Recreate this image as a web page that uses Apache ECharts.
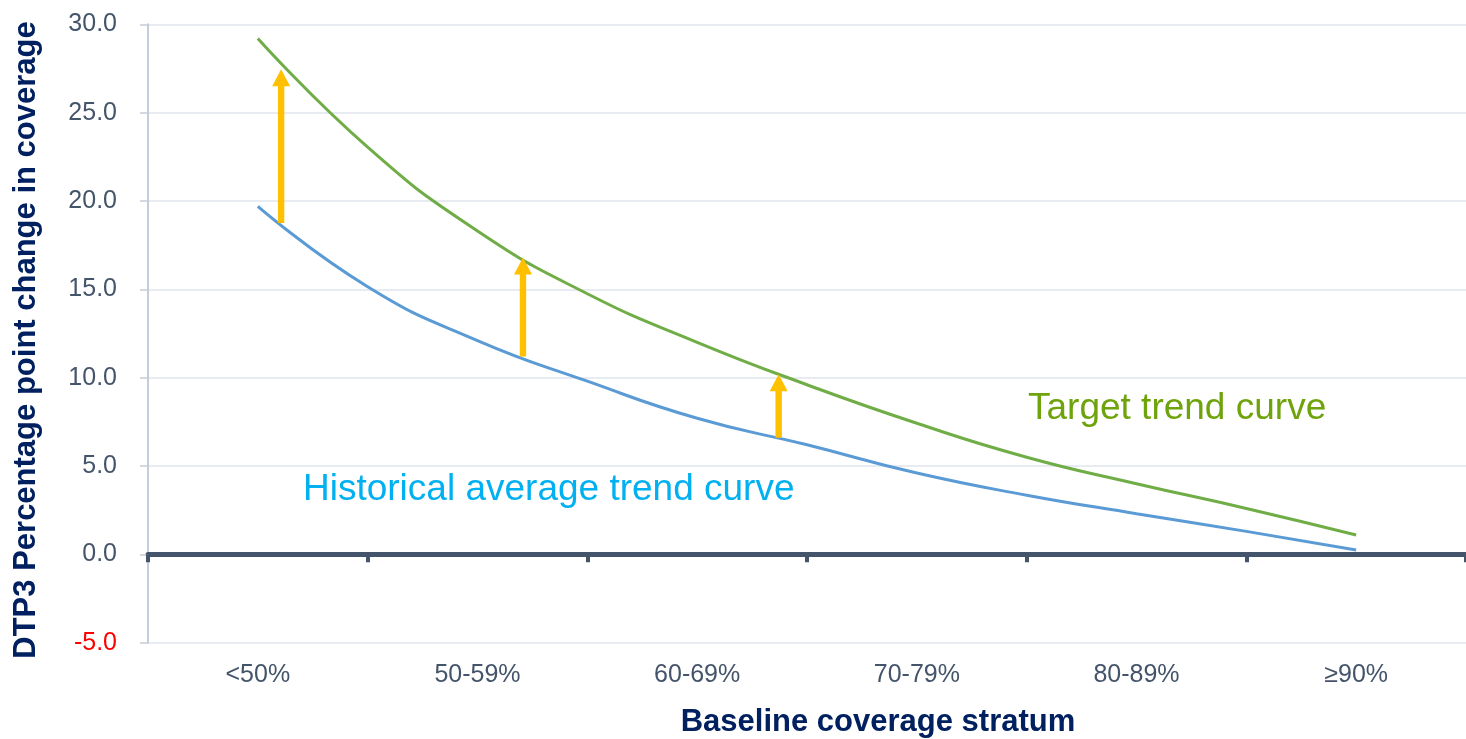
<!DOCTYPE html>
<html>
<head>
<meta charset="utf-8">
<script src="https://cdn.jsdelivr.net/npm/echarts@6/dist/echarts.min.js"></script>
<style>
html,body{margin:0;padding:0;background:#fff;}
#c{width:1466px;height:739px;}
</style>
</head>
<body>
<div id="c"></div>
<script>
// ---- data ----
const categories = ['<50%', '50-59%', '60-69%', '70-79%', '80-89%', '≥90%'];
// positions along x in category units (0 = left edge of first category)
const curveX = [0.5, 1, 1.5, 2, 2.5, 3, 3.5, 4, 4.5, 5, 5.5];
const targetValues = [29.2, 23.05, 18.3, 14.75, 12.0, 9.6, 7.42, 5.5, 4.0, 2.6, 1.1];
const historicalValues = [19.7, 15.15, 12.1, 9.8, 7.7, 6.2, 4.6, 3.35, 2.3, 1.3, 0.25];
const arrowX = [0.606, 1.707, 2.871];
const arrowFrom = [18.75, 11.2, 6.6];
const arrowTo = [27.45, 16.8, 10.2];
const yMin = -5, yMax = 30, yStep = 5;

const FONT = '"Liberation Sans", Arial, Helvetica, sans-serif';
const chart = echarts.init(document.getElementById('c'), null, {renderer: 'canvas'});

const option = {
  backgroundColor: '#ffffff',
  animation: false,
  textStyle: {fontFamily: FONT},
  grid: {left: 148, top: 24.3, width: 1323, height: 618.4, containLabel: false},
  xAxis: [
    {
      type: 'category', data: categories, position: 'bottom',
      axisLine: {show: false, onZero: false},
      axisTick: {show: false},
      axisLabel: {fontSize: 25, color: '#44546a', margin: 20, fontFamily: FONT},
      splitLine: {show: false}
    },
    {
      type: 'category', data: categories, position: 'bottom',
      axisLine: {show: true, onZero: true, lineStyle: {color: '#44546a', width: 5}},
      axisTick: {show: true, length: 8, lineStyle: {color: '#44546a', width: 4}},
      axisLabel: {show: false},
      splitLine: {show: false}
    },
    {type: 'value', min: 0, max: 6, show: false}
  ],
  yAxis: {
    type: 'value', min: yMin, max: yMax, interval: yStep,
    axisLine: {show: true, onZero: false, lineStyle: {color: '#c5cdd8', width: 2}},
    axisTick: {show: true, length: 8, lineStyle: {color: '#c5cdd8', width: 1.5}},
    axisLabel: {
      fontSize: 25, margin: 31, fontFamily: FONT,
      formatter: v => v.toFixed(1),
      color: v => (Number(v) < 0 ? '#ff0000' : '#44546a')
    },
    splitLine: {show: true, lineStyle: {color: '#e1e5ec', width: 1.5}}
  },
  series: [
    {
      name: 'Target trend curve', type: 'line', xAxisIndex: 2, yAxisIndex: 0,
      data: curveX.map((x, i) => [x, targetValues[i]]),
      smooth: 0.5, symbol: 'none',
      lineStyle: {color: '#70ad47', width: 3}, z: 3
    },
    {
      name: 'Historical average trend curve', type: 'line', xAxisIndex: 2, yAxisIndex: 0,
      data: curveX.map((x, i) => [x, historicalValues[i]]),
      smooth: 0.5, symbol: 'none',
      lineStyle: {color: '#5b9bd5', width: 3}, z: 3
    },
    {
      name: 'arrows', type: 'custom', xAxisIndex: 2, yAxisIndex: 0, z: 5,
      data: arrowX.map((x, i) => [x, arrowFrom[i], arrowTo[i]]),
      encode: {x: 0, y: [1, 2]},
      renderItem: function (params, api) {
        const p0 = api.coord([api.value(0), api.value(1)]);
        const p1 = api.coord([api.value(0), api.value(2)]);
        const x = p0[0], hw = 3.2, headW = 9, headH = 17;
        const pts = [
          [x - hw, p0[1]], [x - hw, p1[1] + headH], [x - headW, p1[1] + headH],
          [x, p1[1]], [x + headW, p1[1] + headH], [x + hw, p1[1] + headH], [x + hw, p0[1]]
        ];
        return {type: 'polygon', shape: {points: pts}, style: {fill: '#ffc000'}};
      }
    }
  ],
  graphic: [
    {
      type: 'text', x: 26, y: 340, rotation: Math.PI / 2,
      style: {text: 'DTP3 Percentage point change in coverage', fontSize: 31, fontWeight: 'bold',
        fontFamily: FONT, fill: '#002060', align: 'center', verticalAlign: 'middle'}
    },
    {
      type: 'text', x: 878, y: 722,
      style: {text: 'Baseline coverage stratum', fontSize: 31, fontWeight: 'bold',
        fontFamily: FONT, fill: '#002060', align: 'center', verticalAlign: 'middle'}
    },
    {
      type: 'text', x: 303, y: 490,
      style: {text: 'Historical average trend curve', fontSize: 37,
        fontFamily: FONT, fill: '#00b0f0', align: 'left', verticalAlign: 'middle'}
    },
    {
      type: 'text', x: 1028, y: 409,
      style: {text: 'Target trend curve', fontSize: 37,
        fontFamily: FONT, fill: '#6ea30b', align: 'left', verticalAlign: 'middle'}
    }
  ]
};
chart.setOption(option);
</script>
</body>
</html>
